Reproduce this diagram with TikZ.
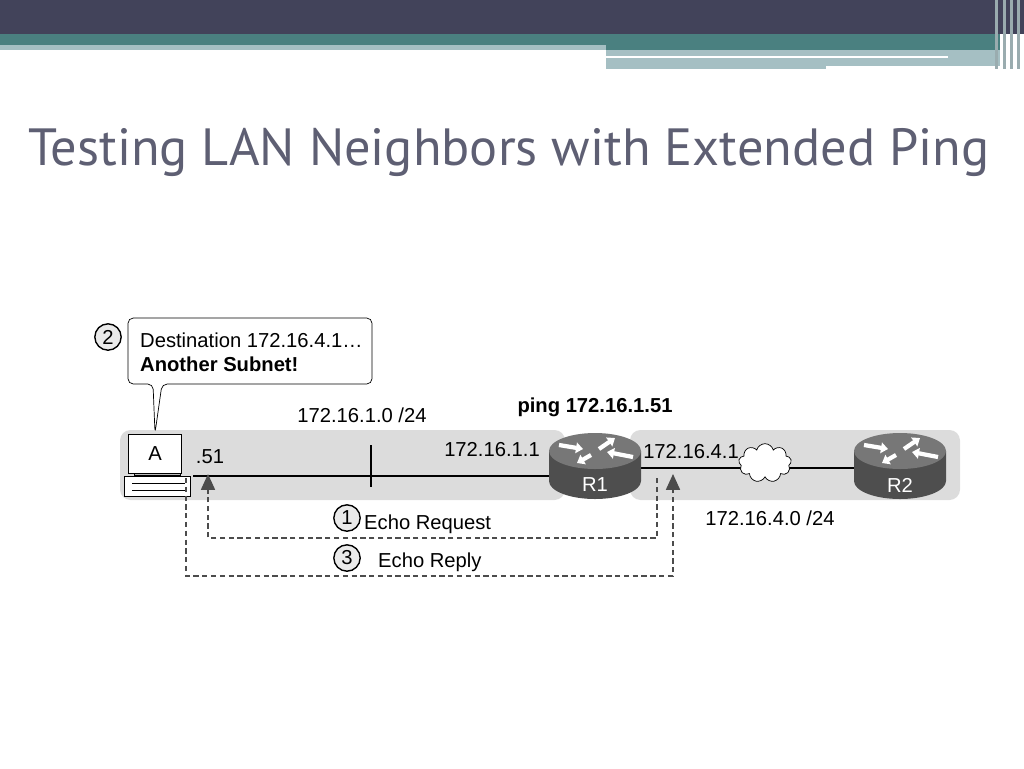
\documentclass[tikz,border=0pt]{standalone}
\usepackage{fontspec}
\setmainfont{Liberation Sans}
\newfontfamily\titlefont{PT Sans}
\usetikzlibrary{shapes.symbols,arrows.meta}
\definecolor{barDark}{HTML}{42435A}
\definecolor{barTeal}{HTML}{4A8080}
\definecolor{barLight}{HTML}{A5BFC3}
\definecolor{bandGray}{HTML}{DCDCDC}
\definecolor{rtrSide}{HTML}{4E4E4E}
\definecolor{rtrTop}{HTML}{777777}
\tikzset{
  lbl/.style={font=\fontsize{11.5}{13.5}\selectfont},
  num/.style={circle,draw,thick,fill=bandGray!60,inner sep=1pt,minimum size=15pt,font=\fontsize{11.5}{13}\selectfont},
  path/.style={densely dashed,thick,draw=black!70},
  band/.style={fill=bandGray,rounded corners=6pt,draw=none},
  rarrow/.style={white,line width=2.4pt,-{Triangle[length=4pt,width=6pt]}},
}
% router: center, name
\newcommand{\router}[2]{%
  \begin{scope}[shift={#1}]
    \fill[rtrSide] (-46,-14) -- (-46,16) arc[start angle=180,end angle=0,x radius=46,y radius=18] -- (46,-14) -- cycle;
    \fill[rtrTop] (0,-14) ellipse[x radius=46,y radius=18];
    \draw[rarrow] (-36,-20) -- (-12,-16);
    \draw[rarrow] (4,-16) -- (20,-27);
    \draw[rarrow] (38,-8) -- (12,-13);
    \draw[rarrow] (-4,-10) -- (-18,-2);
    \node[white,lbl] (#2) at (0,20) {#2};
  \end{scope}}
\begin{document}
\begin{tikzpicture}[x=0.02cm,y=-0.02cm]
\useasboundingbox (0,0) rectangle (1024,768);
% header bars
\fill[barDark] (0,0) rectangle (1024,34);
\fill[barTeal] (0,34) rectangle (1000,50);
\fill[barLight] (0,45) rectangle (606,50);
\fill[barLight] (606,50) rectangle (1000,69);
\fill[white] (606,56) rectangle (948,58);
\fill[white] (826,66) rectangle (1000,69);
\foreach \x in {995,1003,1010,1017} \fill[barLight!70!gray] (\x,0) rectangle (\x+3,69);
% title
\node[anchor=base west,font=\titlefont\fontsize{29.8}{34}\selectfont,text=barDark!85,inner sep=0] (title) at (28,165) {Testing LAN Neighbors with Extended Ping};

% bands
\fill[band] (120,430) rectangle (565,500);
\fill[band] (630,430) rectangle (960,500);

% links
\draw[thick] (193,476) -- (560,476);
\draw[thick] (371,445) -- (371,487);
\draw[thick] (640,468) -- (860,468);

% routers
\router{(595,465)}{R1}
\router{(900,465)}{R2}
\node[cloud,draw,fill=white,cloud puffs=9,minimum width=30pt,minimum height=22pt,inner sep=0] (cloud) at (765,463) {};

% PC A
\fill[white,draw=black] (124,476) rectangle (190,496);
\draw (132,483) -- (185,483) (132,490) -- (185,490);
\fill[rtrTop!50,draw=black] (134,434) rectangle (180,475);
\node[draw,fill=white,lbl,minimum width=30pt,minimum height=22pt,inner sep=0] (A) at (155,454) {A};

% callout
\draw[fill=white,rounded corners=3pt] (155,433) -- (153,384) -- (128,384) -- (128,318) -- (372,318) -- (372,384) -- (162,384) -- cycle;
\node[anchor=west,lbl,align=left] (dest) at (134,352) {Destination 172.16.4.1\ldots\\\textbf{Another Subnet!}};
\node[num] (n2) at (108,337) {2};

% labels
\node[lbl] (d51) at (210,457) {.51};
\node[lbl] (net1) at (362,415) {172.16.1.0 /24};
\node[lbl] (gw1) at (492,450) {172.16.1.1};
\node[lbl,font=\bfseries\fontsize{11.5}{13}\selectfont] (ping) at (595,407) {ping 172.16.1.51};
\node[lbl] (gw4) at (691,452) {172.16.4.1};
\node[lbl] (net4) at (770,518) {172.16.4.0 /24};

% echo paths
\draw[path,-{Triangle[length=9pt,width=8pt]}] (657,478) -- (657,538) -- (208,538) -- (208,474);
\draw[path,-{Triangle[length=9pt,width=8pt]}] (186,478) -- (186,576) -- (673,576) -- (673,474);
\node[num] (n1) at (347,518) {1};
\node[lbl,anchor=west] (req) at (358,524) {Echo Request};
\node[num] (n3) at (347,558) {3};
\node[lbl,anchor=west] (rep) at (372,562) {Echo Reply};
\end{tikzpicture}
\end{document}
